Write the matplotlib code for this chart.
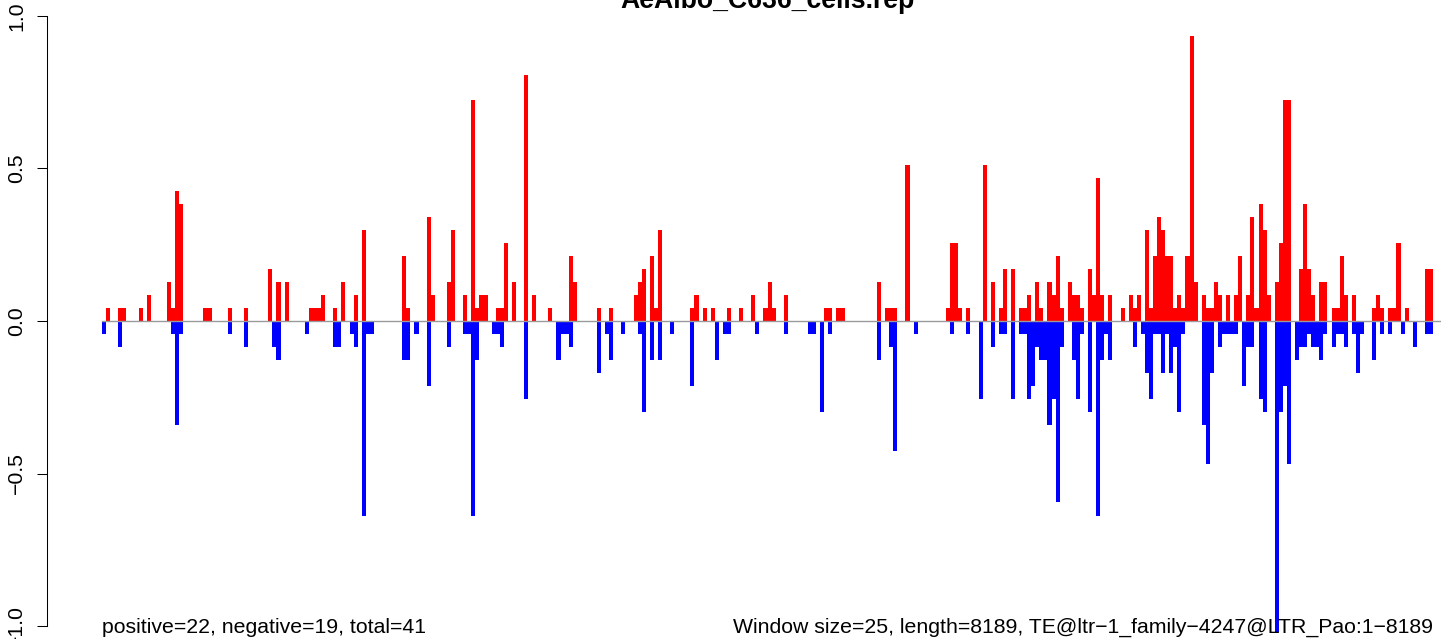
import numpy as np
import matplotlib
matplotlib.use("Agg")
import matplotlib.pyplot as plt

# windows of 25 bp over an 8189 bp element -> 328 windows
N_WINDOWS = 328
TITLE = "AeAlbo_C636_cells.rep"
LEFT_NOTE = "positive=22, negative=19, total=41"
RIGHT_NOTE = "Window size=25, length=8189, TE@ltr\u22121_family\u22124247@LTR_Pao:1\u22128189"

# positive strand coverage (window index, value)
pos_windows = [1, 4, 5, 9, 11, 16, 17, 18, 19, 25, 26, 31, 35, 41, 43, 45,
               51, 52, 53, 54, 57, 59, 62, 64, 74, 75, 80, 81, 85, 86, 89, 91,
               92, 93, 94, 97, 98, 99, 101, 104, 106, 110, 115, 116, 122, 125,
               131, 132, 133, 135, 136, 137, 145, 146, 148, 150, 154, 157, 160,
               163, 164, 165, 168, 178, 179, 181, 182, 191, 193, 194, 195, 198,
               208, 209, 210, 211, 213, 217, 219, 221, 222, 224, 226, 227, 228,
               230, 231, 233, 234, 235, 236, 238, 239, 240, 241, 243, 244, 245,
               246, 248, 251, 253, 254, 255, 257, 258, 259, 260, 261, 262, 263,
               264, 265, 266, 267, 268, 269, 271, 272, 273, 274, 275, 277, 279,
               280, 282, 283, 284, 285, 286, 287, 289, 290, 291, 292, 295, 296,
               297, 298, 300, 301, 303, 304, 305, 306, 308, 313, 314, 315, 317,
               318, 319, 321, 326, 327]
pos_values = [0.043, 0.043, 0.043, 0.043, 0.085, 0.128, 0.043, 0.425, 0.383, 0.043, 0.043, 0.043, 0.043, 0.170, 0.128, 0.128,
              0.043, 0.043, 0.043, 0.085, 0.043, 0.128, 0.085, 0.298, 0.213, 0.043, 0.340, 0.085, 0.128, 0.298, 0.085, 0.723,
              0.043, 0.085, 0.085, 0.043, 0.043, 0.255, 0.128, 0.808, 0.085, 0.043, 0.213, 0.128, 0.043, 0.043,
              0.085, 0.128, 0.170, 0.213, 0.043, 0.298, 0.043, 0.085, 0.043, 0.043, 0.043, 0.043, 0.085,
              0.043, 0.128, 0.043, 0.085, 0.043, 0.043, 0.043, 0.043, 0.128, 0.043, 0.043, 0.043, 0.510,
              0.043, 0.255, 0.255, 0.043, 0.043, 0.510, 0.128, 0.043, 0.170, 0.170, 0.043, 0.043, 0.085,
              0.128, 0.043, 0.128, 0.085, 0.213, 0.043, 0.128, 0.085, 0.085, 0.043, 0.170, 0.085, 0.468,
              0.085, 0.085, 0.043, 0.085, 0.043, 0.085, 0.298, 0.043, 0.213, 0.340, 0.298, 0.213, 0.213,
              0.043, 0.085, 0.043, 0.213, 0.935, 0.128, 0.085, 0.043, 0.043, 0.128, 0.085, 0.085, 0.085,
              0.213, 0.085, 0.340, 0.043, 0.383, 0.298, 0.085, 0.128, 0.255, 0.723, 0.723, 0.170, 0.383,
              0.170, 0.085, 0.128, 0.128, 0.043, 0.043, 0.213, 0.085, 0.085, 0.043, 0.085, 0.043, 0.043,
              0.043, 0.255, 0.043, 0.170, 0.170]

# negative strand coverage (window index, magnitude)
neg_windows = [0, 4, 17, 18, 19, 31, 35, 42, 43, 50, 57, 58, 61, 62, 64, 65,
               66, 74, 75, 77, 80, 85, 89, 90, 91, 92, 96, 97, 98, 104, 112, 113,
               114, 115, 122, 124, 125, 128, 132, 133, 135, 137, 140, 145, 151,
               153, 154, 161, 168, 174, 175, 177, 179, 191, 194, 195, 200, 209,
               213, 216, 219, 221, 222, 224, 226, 227, 228, 229, 230, 231, 232,
               233, 234, 235, 236, 239, 240, 241, 243, 245, 246, 247, 248, 254,
               256, 257, 258, 259, 260, 261, 262, 263, 264, 265, 266, 271, 272,
               273, 275, 276, 277, 278, 279, 281, 282, 283, 285, 286, 289, 290,
               291, 292, 294, 295, 296, 297, 298, 299, 300, 301, 303, 304, 305,
               306, 308, 309, 310, 313, 315, 317, 320, 323, 326, 327]
neg_values = [0.043, 0.085, 0.043, 0.340, 0.043, 0.043, 0.085, 0.085, 0.128, 0.043, 0.085, 0.085, 0.043, 0.085, 0.638, 0.043,
              0.043, 0.128, 0.128, 0.043, 0.213, 0.085, 0.043, 0.043, 0.638, 0.128, 0.043, 0.043, 0.085, 0.255, 0.128, 0.043,
              0.043, 0.085, 0.170, 0.043, 0.128, 0.043, 0.043, 0.298, 0.128, 0.128, 0.043, 0.213, 0.128,
              0.043, 0.043, 0.043, 0.043, 0.043, 0.043, 0.298, 0.043, 0.128, 0.085, 0.425, 0.043, 0.043,
              0.043, 0.255, 0.085, 0.043, 0.043, 0.255, 0.043, 0.043, 0.255, 0.213, 0.085, 0.128, 0.128,
              0.340, 0.255, 0.595, 0.085, 0.128, 0.255, 0.043, 0.298, 0.638, 0.128, 0.043, 0.128, 0.085,
              0.043, 0.170, 0.255, 0.043, 0.043, 0.170, 0.043, 0.170, 0.085, 0.298, 0.043, 0.340, 0.468,
              0.170, 0.085, 0.043, 0.043, 0.043, 0.043, 0.213, 0.085, 0.085, 0.255, 0.298, 1.020, 0.298,
              0.213, 0.468, 0.128, 0.085, 0.085, 0.043, 0.085, 0.085, 0.128, 0.043, 0.085, 0.043, 0.043,
              0.085, 0.043, 0.170, 0.043, 0.128, 0.043, 0.043, 0.043, 0.085, 0.043, 0.043]

yticks = [-1.0, -0.5, 0.0, 0.5, 1.0]
ytick_labels = ["\u22121.0", "\u22120.5", "0.0", "0.5", "1.0"]

pos = np.zeros(N_WINDOWS)
pos[pos_windows] = pos_values
neg = np.zeros(N_WINDOWS)
neg[neg_windows] = neg_values
x = np.arange(N_WINDOWS)

plt.rcParams['font.family'] = ['Liberation Sans', 'DejaVu Sans']

W, H = 1441, 639
fig = plt.figure(figsize=(W / 100, H / 100), dpi=100)

# pixel layout
axis_px = 47
bar0_px, barN_px = 102, 1433
zero_px, one_px = 321, 16
px_per_bar = (barN_px - bar0_px) / N_WINDOWS
px_per_unit = zero_px - one_px

ax = fig.add_axes([axis_px / W, 0, 1 - axis_px / W, 1])
xmax = N_WINDOWS + (W - barN_px) / px_per_bar
ax.set_xlim(-(bar0_px - axis_px) / px_per_bar, xmax)
ax.set_ylim(-(H - zero_px) / px_per_unit, zero_px / px_per_unit)

ax.bar(x, pos, width=1, align='edge', color='#FF0000', linewidth=0)
ax.bar(x, -neg, width=1, align='edge', color='#0000FF', linewidth=0)
ax.plot([0, xmax], [0, 0], color='#9a9a9a', lw=1.0, zorder=5)

for s in ['top', 'right', 'bottom']:
    ax.spines[s].set_visible(False)
ax.spines['left'].set_bounds(-1, 1)
ax.spines['left'].set_linewidth(0.75)
ax.set_xticks([])
ax.set_yticks(yticks)
ax.set_yticklabels(ytick_labels, rotation=90, va='center', fontsize=15.3)
ax.tick_params(axis='y', direction='out', length=7, width=0.75, pad=8)

fs = 15.3
ax.text(0, -1.023, LEFT_NOTE, ha='left', va='baseline', fontsize=fs)
ax.text(N_WINDOWS, -1.023, RIGHT_NOTE, ha='right', va='baseline', fontsize=fs)
ax.text(N_WINDOWS / 2, (zero_px - 8) / px_per_unit, TITLE, ha='center',
        va='baseline', fontsize=19.2, fontweight='bold', clip_on=False)

fig.savefig("out.png", dpi=100)
